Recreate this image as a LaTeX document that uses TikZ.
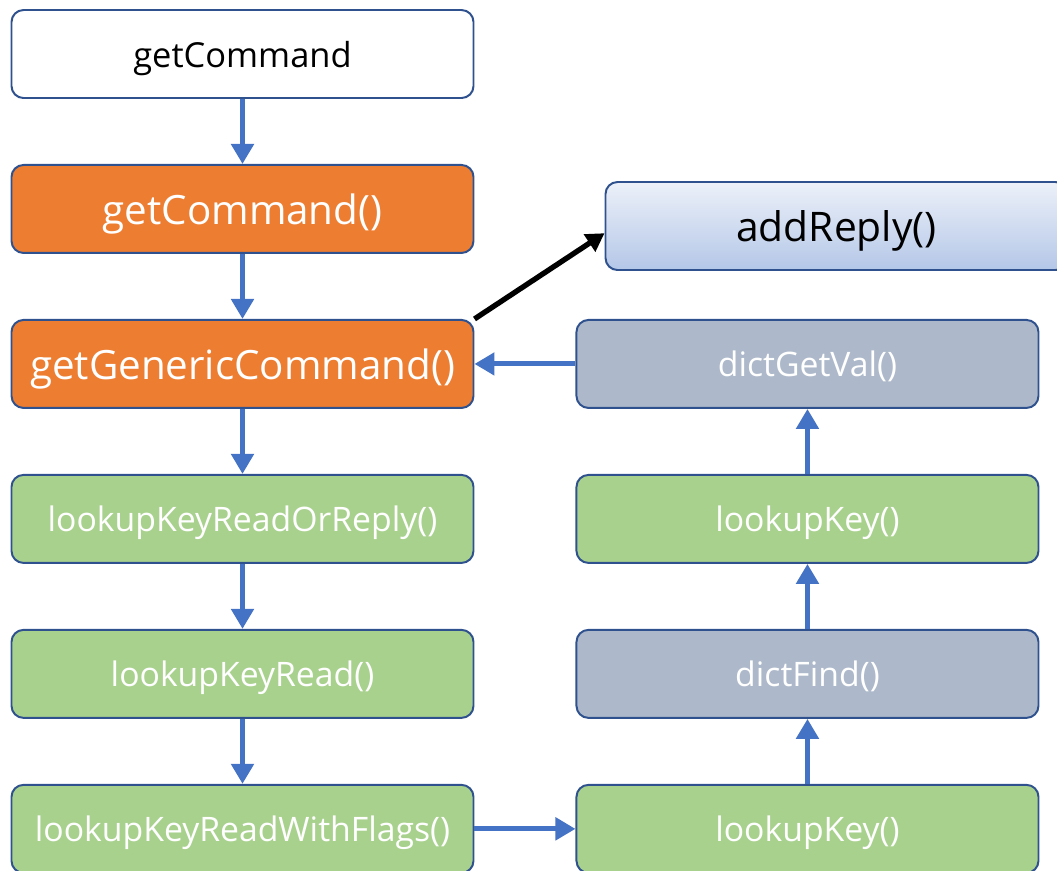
\documentclass[tikz,border=0pt]{standalone}
\usepackage{fontspec}
\setmainfont{Open Sans}
\usetikzlibrary{positioning,arrows.meta}

\definecolor{boxborder}{HTML}{2F528F}
\definecolor{callorange}{HTML}{ED7D31}
\definecolor{callgreen}{HTML}{A9D18E}
\definecolor{callgrey}{HTML}{ADB9CA}
\definecolor{flowblue}{HTML}{4472C4}

\begin{document}
\begin{tikzpicture}[node distance=1.625cm and 2.525cm,
	call/.style={
		% The shape:
		rectangle, rounded corners=0.3cm,
		% The size:
		minimum width=11.55cm, minimum height=2.2cm,
		% The border:
		line width=1.4pt,
		draw=boxborder,
		% no depth, so the text sits a little low
		text depth=0pt
		},
	entry/.style={call, fill=white, text height=18.6pt, font=\fontsize{24.5}{29}\selectfont},
	hot/.style={call, fill=callorange, text=white, text height=21.8pt, font=\fontsize{28.7}{34}\selectfont},
	lookup/.style={call, fill=callgreen, text=white, text height=18.2pt, font=\fontsize{24}{29}\selectfont},
	dict/.style={call, fill=callgrey, text=white, text height=18.2pt, font=\fontsize{24}{29}\selectfont},
	reply/.style={call, top color=white!90!flowblue, bottom color=flowblue!40, text height=22pt, font=\fontsize{29}{34}\selectfont},
	flow/.style={-{Triangle[length=0.5cm,width=0.55cm]}, line width=3.6pt, draw=flowblue},
	back/.style={-{Triangle[length=0.45cm,width=0.5cm]}, line width=3.8pt, draw=black}]

	\clip (-6.0625,1.35) rectangle (20.3625,-20.4);

	\node (entry) [entry] {getCommand};
	\node (getcmd) [hot,below=of entry] {getCommand()};
	\node (generic) [hot,below=of getcmd] {getGenericCommand()};
	\node (readorreply) [lookup,below=of generic] {lookupKeyReadOrReply()};
	\node (read) [lookup,below=of readorreply] {lookupKeyRead()};
	\node (withflags) [lookup,below=of read] {lookupKeyReadWithFlags()};
	\node (lookupA) [lookup,right=of withflags] {lookupKey()};
	\node (find) [dict,above=of lookupA] {dictFind()};
	\node (lookupB) [lookup,above=of find] {lookupKey()};
	\node (getval) [dict,above=of lookupB] {dictGetVal()};
	\node (addreply) [reply] at (14.85,-4.3) {addReply()};

	\path (entry) edge[flow] (getcmd);
	\path (getcmd) edge[flow] (generic);
	\path (generic) edge[flow] (readorreply);
	\path (readorreply) edge[flow] (read);
	\path (read) edge[flow] (withflags);
	\path (withflags) edge[flow] (lookupA);
	\path (lookupA) edge[flow] (find);
	\path (find) edge[flow] (lookupB);
	\path (lookupB) edge[flow] (getval);
	\path (getval) edge[flow] (generic);
	\path (generic.north east) edge[back] ([yshift=-0.18cm]addreply.west);

\end{tikzpicture}
\end{document}
